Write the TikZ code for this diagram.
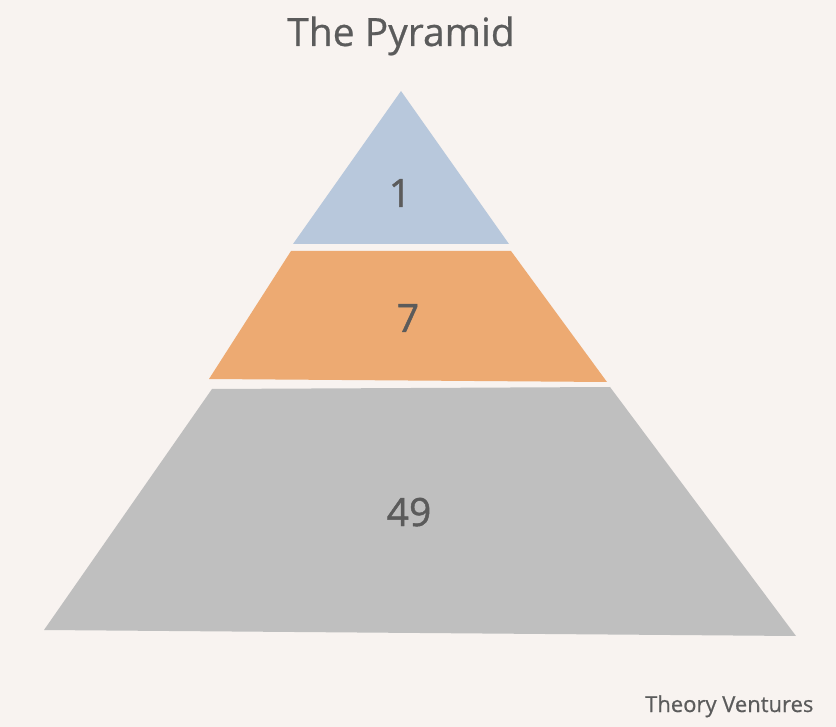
\documentclass[tikz,border=0pt]{standalone}
\usepackage{fontspec}
\setmainfont{Open Sans}
\newfontfamily\heavier{Open Sans}[FakeBold=1.2]
\newfontfamily\medium{Open Sans}[FakeBold=0.6]
\definecolor{bg}{HTML}{F8F3F0}
\definecolor{tblue}{HTML}{B8C8DC}
\definecolor{torange}{HTML}{EDAA72}
\definecolor{tgray}{HTML}{BFBFBF}
\definecolor{ink}{HTML}{5B5B5B}
\begin{document}
\begin{tikzpicture}[x=1pt,y=-1pt,
  lbl/.style={text=ink,font=\heavier\fontsize{39}{40}\selectfont,inner sep=0pt,anchor=base},
  tier/.style={draw=none}]
\fill[bg] (0,0) rectangle (836,727);
\useasboundingbox (0,0) rectangle (836,727);
\node[lbl,font=\medium\fontsize{39}{40}\selectfont] (title) at (401,46) {The Pyramid};
\fill[tier,tblue] (401,91) -- (509,244) -- (293,244) -- cycle;
\fill[tier,torange] (291,251) -- (511,251) -- (607,382) -- (209,379) -- cycle;
\fill[tier,tgray] (212,389) -- (610,387) -- (796,636) -- (44,630) -- cycle;
\node[lbl] (one) at (400,207) {1};
\node[lbl] (seven) at (408,332) {7};
\node[lbl] (fortynine) at (409,526) {49};
\node[text=ink,font=\medium\fontsize{22}{24}\selectfont,inner sep=0pt,anchor=base west] (tv) at (645,712) {Theory Ventures};
\end{tikzpicture}
\end{document}
